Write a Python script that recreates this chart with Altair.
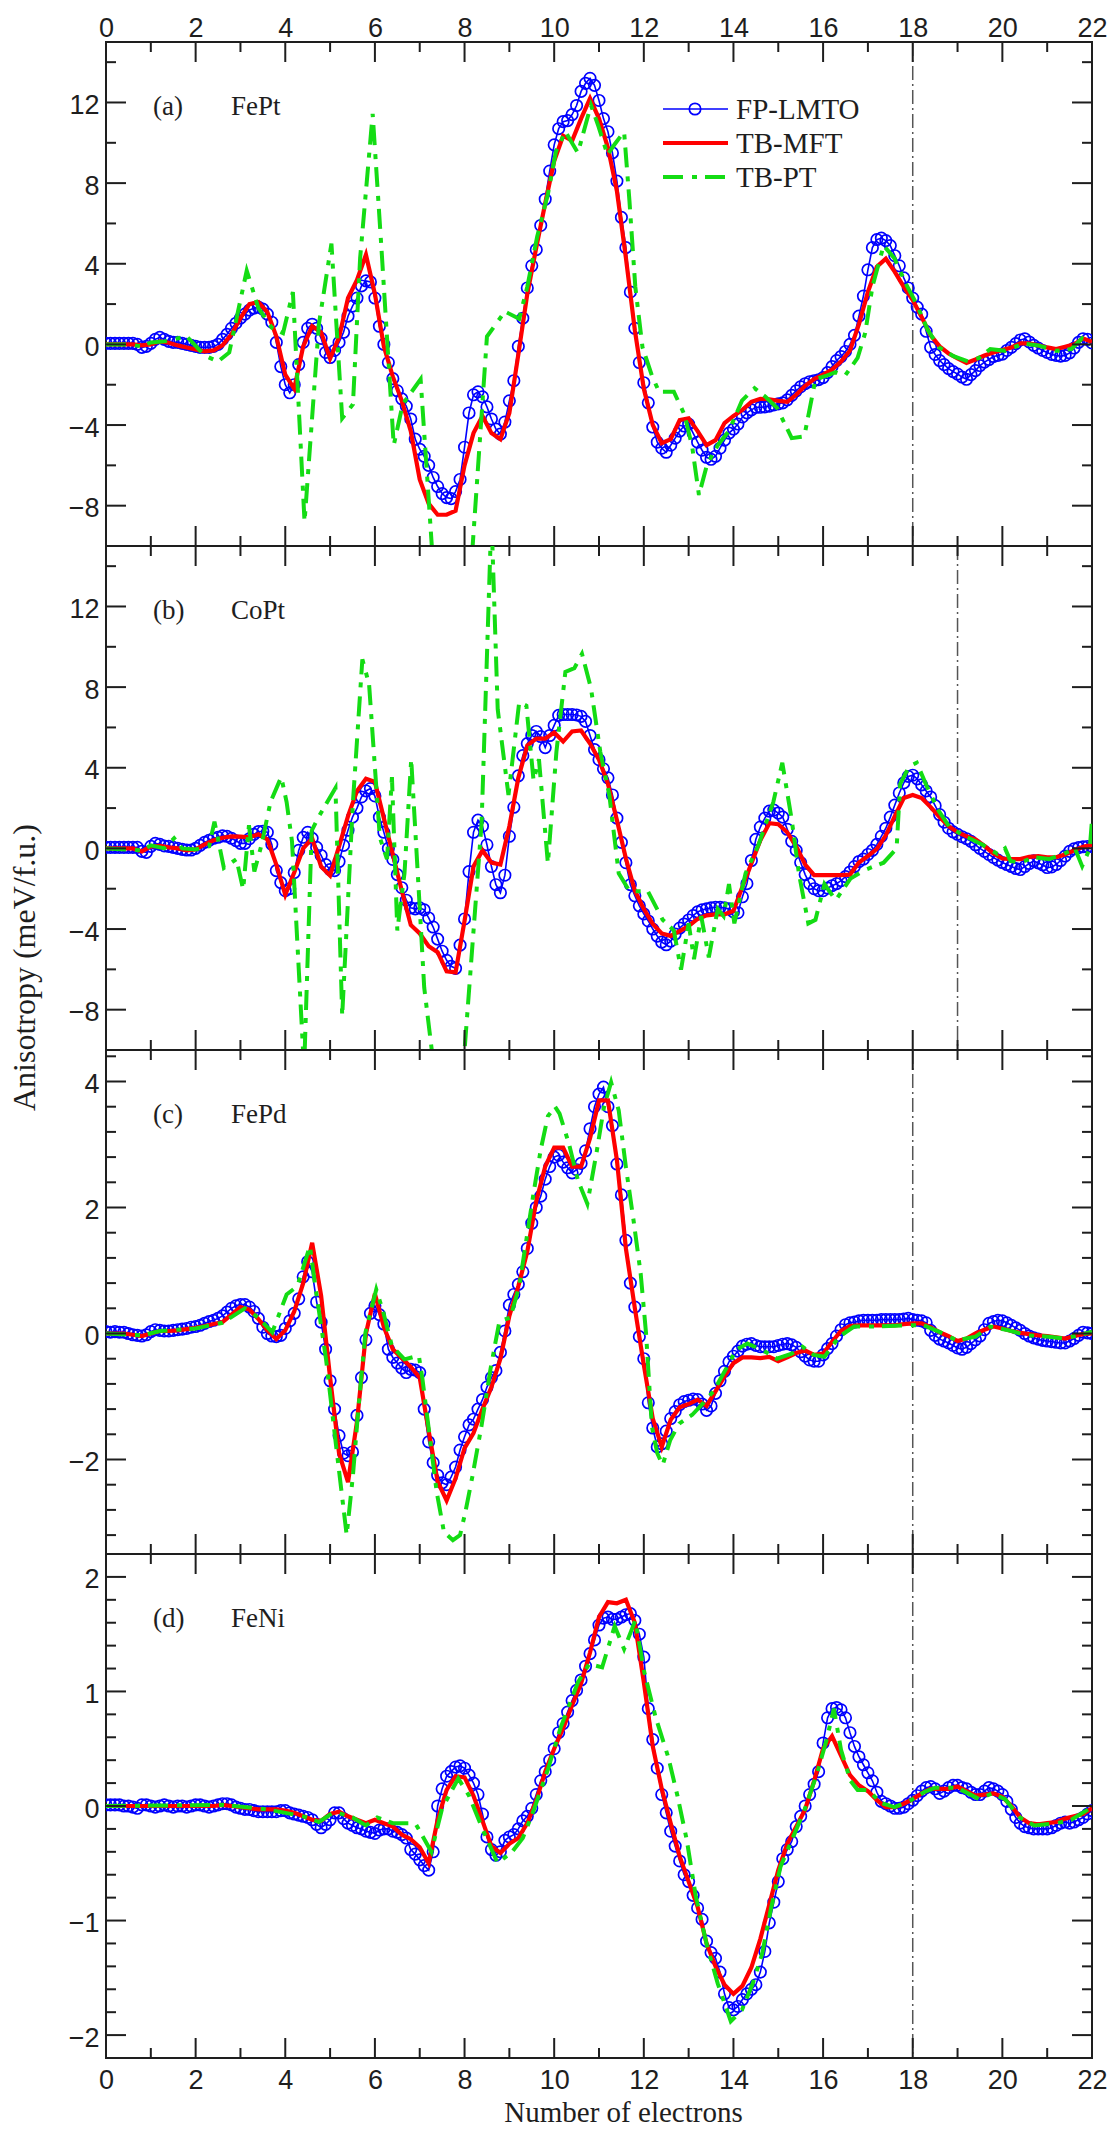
import altair as alt
import pandas as pd

# ---------------------------------------------------------------- style
INK = "#1e1e1e"
BLUE = "#0000ff"
RED = "#ff0000"
GREEN = "#14dc14"
GUIDE = "#555555"
SANS = "Liberation Sans"
SERIF = "Liberation Serif"

W, H = 986, 504           # plot area of one panel
MAJOR_LEN, MINOR_LEN = 20, 10
PT_DASH = [20, 9, 5, 8]
GUIDE_DASH = [14, 4, 2, 4]

# ---------------------------------------------------------------- data
X_LMTO = [round(0.1 * i, 1) for i in range(221)]   # FP-LMTO grid
X_MFT = [round(0.2 * i, 1) for i in range(111)]    # TB-MFT grid
X_MAJOR = list(range(0, 23, 2))
X_MINOR = list(range(1, 22, 2))
SERIES = ["FP-LMTO", "TB-MFT", "TB-PT"]

FEPT_LMTO = [
    0.05, 0.05, 0.05, 0.05, 0.05, 0.05, 0.05, 0.0, -0.15, -0.1,
    0.05, 0.25, 0.35, 0.25, 0.15, 0.1, 0.1, 0.05, 0.0, -0.05,
    -0.1, -0.15, -0.15, -0.15, -0.1, 0.0, 0.25, 0.5, 0.8, 1.05,
    1.3, 1.5, 1.7, 1.8, 1.85, 1.75, 1.5, 1.1, 0.1, -1.1,
    -2.0, -2.4, -2.0, -1.0, 0.1, 0.8, 1.0, 0.8, 0.3, -0.4,
    -0.65, -0.3, 0.1, 0.6, 1.4, 1.9, 2.3, 2.9, 3.15, 3.1,
    2.3, 0.9, 0.0, -0.9, -1.7, -2.3, -2.7, -3.06, -3.7, -4.7,
    -5.2, -5.55, -6.0, -6.6, -7.05, -7.4, -7.6, -7.65, -7.3, -6.7,
    -5.1, -3.4, -2.5, -2.35, -2.6, -3.1, -3.7, -4.2, -4.45, -3.85,
    -2.8, -1.8, -0.1, 1.3, 2.8, 3.9, 4.7, 5.9, 7.2, 8.6,
    9.9, 10.7, 11.05, 11.1, 11.4, 11.85, 12.55, 12.95, 13.2, 12.85,
    12.1, 11.2, 10.55, 9.5, 8.1, 6.3, 4.8, 2.6, 0.8, -0.9,
    -1.9, -2.9, -4.1, -4.85, -5.15, -5.35, -5.0, -4.65, -4.3, -4.05,
    -3.95, -4.4, -4.85, -5.25, -5.6, -5.7, -5.55, -5.15, -4.75, -4.4,
    -4.2, -3.95, -3.6, -3.4, -3.25, -3.12, -3.12, -3.1, -3.06, -3.0,
    -2.95, -2.9, -2.75, -2.53, -2.3, -2.1, -1.95, -1.85, -1.8, -1.75,
    -1.65, -1.4, -1.1, -0.8, -0.6, -0.35, 0.0, 0.45, 1.4, 2.4,
    3.7, 4.8, 5.2, 5.27, 5.15, 4.9, 4.4, 3.9, 3.3, 2.8,
    2.3, 1.85, 1.5, 0.65, -0.15, -0.5, -0.8, -1.0, -1.2, -1.35,
    -1.47, -1.62, -1.73, -1.5, -1.3, -1.05, -0.88, -0.75, -0.6, -0.55,
    -0.48, -0.3, -0.15, 0.04, 0.22, 0.28, 0.12, -0.05, -0.18, -0.3,
    -0.4, -0.5, -0.55, -0.58, -0.55, -0.42, -0.18, 0.1, 0.28, 0.25,
    0.07,
]
FEPT_MFT = [
    0.0, 0.0, 0.0, 0.0, -0.05, 0.0, 0.15, 0.08, -0.05, -0.15,
    -0.25, -0.35, -0.3, -0.05, 0.5, 1.3, 2.0, 2.1, 1.6, 0.4,
    -1.5, -2.2, -0.1, 0.9, 0.6, -0.7, 0.35, 2.3, 3.2, 4.45,
    2.5, -0.1, -1.6, -2.8, -4.3, -6.7, -7.9, -8.45, -8.45, -8.25,
    -6.0, -4.4, -3.55, -4.4, -4.7, -3.4, -0.5, 2.5, 4.8, 7.0,
    9.1, 10.35, 10.1, 11.2, 12.2, 11.2, 9.75, 7.6, 4.3, 0.7,
    -2.2, -4.0, -4.9, -4.7, -3.75, -3.67, -4.3, -5.0, -4.75, -3.9,
    -3.55, -3.25, -2.85, -2.7, -2.72, -2.8, -2.85, -2.5, -2.05, -1.72,
    -1.5, -1.25, -0.85, -0.3, 1.0, 2.6, 3.85, 4.25, 3.6, 2.85,
    2.2, 1.35, 0.45, -0.1, -0.45, -0.7, -0.92, -0.75, -0.55, -0.4,
    -0.28, -0.15, 0.05, 0.05, -0.05, -0.15, -0.23, -0.12, 0.0, 0.3,
    0.12,
]
FEPT_PT_X = [
    0, 0.5, 0.8, 1.0, 1.3, 1.8, 2.2, 2.5, 2.75, 3.14,
    3.4, 3.7, 3.95, 4.17, 4.43, 4.75, 5.03, 5.27, 5.51, 5.67,
    5.95, 6.15, 6.42, 6.62, 7.02, 7.3, 8.15, 8.5, 8.9, 9.22,
    9.4, 9.62, 9.86, 10.04, 10.25, 10.37, 10.53, 10.82, 10.99, 11.19,
    11.35, 11.56, 11.68, 11.81, 11.97, 12.18, 12.34, 12.67, 12.91, 13.08,
    13.23, 13.41, 13.65, 13.9, 14.19, 14.47, 14.72, 14.97, 15.3, 15.58,
    15.83, 16.08, 16.28, 16.49, 16.77, 16.94, 17.1, 17.35, 17.59, 17.84,
    18.09, 18.33, 18.58, 18.91, 19.24, 19.48, 19.73, 20.06, 20.47, 20.8,
    21.21, 21.54, 21.78, 21.95,
]
FEPT_PT = [
    0.0, 0.0, -0.1, 0.1, 0.15, 0.4, -0.55, -0.85, -0.4, 3.66,
    1.8, 0.83, 0.56, 2.6, -8.8, 1.0, 5.0, -3.67, -2.97, 4.28,
    11.43, 4.63, -5.0, -2.97, -1.73, -11.0, -11.0, 0.39, 1.63, 1.27,
    2.86, 5.34, 7.46, 9.58, 10.55, 10.1, 9.5, 11.87, 10.8, 9.4,
    9.93, 10.55, 7.1, 2.86, -0.14, -1.55, -2.35, -2.35, -3.5, -5.09,
    -7.47, -5.97, -5.0, -4.29, -2.79, -2.17, -2.61, -3.14, -4.65, -4.56,
    -1.73, -1.55, -1.38, -1.55, -0.67, 0.57, 2.86, 4.9, 4.28, 3.04,
    1.98, 0.74, -0.14, -0.58, -0.85, -0.67, -0.23, -0.32, 0.04, -0.05,
    -0.32, -0.23, 0.3, -0.05,
]

COPT_LMTO = [
    0.05, 0.05, 0.05, 0.05, 0.05, 0.05, 0.05, 0.05, -0.15, -0.2,
    0.1, 0.25, 0.2, 0.12, 0.1, 0.05, 0.0, -0.05, -0.08, -0.08,
    0.0, 0.15, 0.3, 0.4, 0.5, 0.55, 0.62, 0.6, 0.5, 0.38,
    0.25, 0.25, 0.48, 0.7, 0.83, 0.85, 0.8, 0.2, -1.1, -1.7,
    -2.1, -2.0, -1.2, -0.1, 0.55, 0.8, 0.5, 0.05, -0.35, -0.8,
    -1.05, -1.1, -0.65, 0.15, 0.9, 1.55, 2.0, 2.55, 2.85, 2.97,
    2.6, 1.55, 0.8, 0.0, -0.55, -1.3, -1.95, -2.57, -2.95, -3.0,
    -2.95, -3.05, -3.45, -3.9, -4.5, -5.1, -5.55, -5.85, -5.95, -4.8,
    -3.5, -1.15, 0.8, 1.4, 1.1, 0.18, -0.9, -1.8, -2.2, -1.33,
    0.6, 2.04, 3.6, 4.6, 5.2, 5.6, 5.8, 5.55, 5.0, 5.6,
    6.1, 6.6, 6.64, 6.64, 6.64, 6.62, 6.55, 6.3, 5.6, 4.9,
    4.4, 3.95, 3.5, 2.65, 1.5, 0.3, -0.71, -1.8, -2.35, -2.85,
    -3.25, -3.6, -4.0, -4.35, -4.65, -4.78, -4.6, -4.25, -3.95, -3.75,
    -3.55, -3.33, -3.15, -3.05, -3.0, -2.95, -2.92, -2.92, -2.95, -3.0,
    -3.15, -3.19, -2.4, -1.75, -0.6, 0.45, 1.06, 1.5, 1.85, 1.9,
    1.75, 1.55, 0.95, 0.35, -0.1, -0.7, -1.3, -1.75, -2.0, -2.1,
    -2.1, -1.97, -1.85, -1.75, -1.6, -1.4, -1.17, -0.9, -0.65, -0.53,
    -0.3, -0.1, 0.2, 0.6, 1.0, 1.55, 2.15, 2.75, 3.25, 3.57,
    3.63, 3.45, 3.15, 2.85, 2.55, 2.12, 1.68, 1.3, 1.0, 0.82,
    0.7, 0.58, 0.48, 0.35, 0.18, 0.0, -0.15, -0.3, -0.45, -0.58,
    -0.7, -0.8, -0.9, -1.0, -1.05, -0.9, -0.75, -0.62, -0.72, -0.82,
    -0.95, -0.92, -0.8, -0.6, -0.38, -0.15, -0.02, 0.04, 0.08, 0.09,
    0.09,
]
COPT_MFT = [
    0.0, 0.0, 0.0, 0.0, -0.15, 0.1, 0.12, 0.05, 0.0, -0.1,
    -0.05, 0.2, 0.4, 0.53, 0.6, 0.58, 0.55, 0.7, 0.45, -0.8,
    -2.3, -1.2, 0.0, 0.5, -0.9, -1.35, 0.1, 1.6, 2.85, 3.45,
    3.3, 1.5, -0.3, -2.1, -3.8, -4.22, -4.85, -5.15, -6.1, -6.15,
    -3.6, -0.9, -0.1, -0.7, -0.8, 1.1, 3.5, 5.1, 5.45, 5.45,
    5.75, 5.3, 5.8, 5.85, 5.2, 4.4, 3.2, 1.4, -0.5, -2.1,
    -3.0, -3.75, -4.22, -4.34, -4.1, -3.85, -3.5, -3.32, -3.27, -3.27,
    -3.1, -1.9, -0.75, 0.4, 1.25, 1.2, 0.8, 0.1, -0.8, -1.33,
    -1.33, -1.33, -1.33, -1.3, -0.7, -0.38, -0.02, 0.65, 1.6, 2.5,
    2.65, 2.5, 2.05, 1.55, 1.1, 0.8, 0.6, 0.45, 0.12, -0.25,
    -0.5, -0.53, -0.53, -0.42, -0.38, -0.44, -0.44, -0.3, -0.1, 0.08,
    0.18,
]
COPT_PT_X = [
    0, 0.8, 1.0, 1.3, 1.52, 1.7, 2.0, 2.3, 2.42, 2.63,
    2.91, 3.06, 3.19, 3.31, 3.47, 3.67, 3.91, 4.03, 4.15, 4.42,
    4.59, 4.75, 5.12, 5.27, 5.51, 5.72, 5.87, 6.11, 6.27, 6.38,
    6.5, 6.66, 6.81, 7.02, 7.1, 7.35, 7.95, 8.38, 8.6, 8.74,
    8.98, 9.22, 9.38, 9.54, 9.66, 9.86, 10.05, 10.25, 10.45, 10.62,
    10.82, 11.03, 11.23, 11.44, 11.68, 12.09, 12.42, 12.67, 12.83, 13.0,
    13.12, 13.28, 13.45, 13.65, 13.78, 13.9, 14.02, 14.27, 14.56, 14.89,
    15.09, 15.3, 15.46, 15.67, 15.83, 16.03, 16.28, 16.61, 16.94, 17.35,
    17.64, 17.72, 17.92, 18.09, 18.33, 18.58, 18.82, 19.15, 19.56, 19.89,
    20.06, 20.18, 20.39, 20.71, 21.04, 21.37, 21.62, 21.78, 21.95, 22.0,
]
COPT_PT = [
    0.0, -0.1, 0.15, 0.0, 0.5, 0.0, -0.05, 0.1, 1.33, -0.97,
    -0.53, -2.04, 1.15, -1.15, 0.18, 2.3, 3.54, 2.3, 0.35, -11.0,
    0.88, 1.59, 3.0, -8.3, 2.3, 9.38, 8.14, 0.53, -0.53, 3.54,
    -4.07, -1.24, 4.42, -3.72, -6.9, -11.5, -11.5, 1.24, 16.5, 6.9,
    2.65, 7.26, 7.08, 3.36, 4.42, -0.75, 4.8, 8.76, 8.94, 9.65,
    7.96, 4.78, 2.65, -1.24, -2.12, -2.12, -3.54, -4.07, -6.02, -3.72,
    -5.49, -3.36, -5.4, -3.0, -3.36, -1.77, -3.72, -1.24, 0.18, 2.3,
    4.25, 1.42, -1.24, -3.72, -3.54, -1.77, -2.57, -1.5, -1.06, -0.71,
    0.0, 3.19, 4.07, 4.25, 3.0, 1.86, 1.06, 0.62, 0.18, -0.27,
    0.0, -0.62, -0.71, -0.44, -0.53, -0.27, 0.0, -0.88, 0.0, 1.42,
]

FEPD_LMTO = [
    0.03, 0.02, 0.03, 0.02, 0.02, 0.0, -0.02, -0.03, -0.04, -0.02,
    0.03, 0.06, 0.05, 0.04, 0.04, 0.05, 0.06, 0.07, 0.08, 0.1,
    0.11, 0.13, 0.16, 0.19, 0.21, 0.24, 0.28, 0.34, 0.4, 0.44,
    0.46, 0.46, 0.42, 0.35, 0.24, 0.1, 0.0, -0.04, -0.05, -0.03,
    0.08, 0.2, 0.32, 0.55, 0.9, 1.14, 0.98, 0.5, 0.18, -0.25,
    -0.75, -1.2, -1.62, -1.9, -1.94, -1.88, -1.3, -0.7, -0.1, 0.32,
    0.44, 0.3, 0.15, -0.25, -0.38, -0.47, -0.55, -0.62, -0.57, -0.58,
    -0.62, -1.2, -1.72, -2.05, -2.25, -2.37, -2.4, -2.28, -2.12, -1.85,
    -1.64, -1.45, -1.36, -1.2, -1.05, -0.85, -0.7, -0.59, -0.3, 0.04,
    0.45, 0.62, 0.78, 0.98, 1.35, 1.75, 2.0, 2.18, 2.45, 2.65,
    2.8, 2.83, 2.72, 2.63, 2.55, 2.6, 2.7, 2.9, 3.25, 3.6,
    3.8, 3.91, 3.6, 3.3, 2.69, 2.2, 1.48, 0.8, 0.42, -0.05,
    -0.4, -1.1, -1.5, -1.8, -1.75, -1.55, -1.35, -1.24, -1.13, -1.08,
    -1.06, -1.04, -1.05, -1.12, -1.22, -1.15, -0.95, -0.75, -0.6, -0.45,
    -0.36, -0.28, -0.2, -0.17, -0.16, -0.19, -0.21, -0.21, -0.21, -0.21,
    -0.19, -0.17, -0.16, -0.18, -0.22, -0.29, -0.36, -0.42, -0.44, -0.44,
    -0.34, -0.24, -0.16, -0.04, 0.06, 0.14, 0.17, 0.18, 0.2, 0.21,
    0.21, 0.21, 0.21, 0.22, 0.22, 0.22, 0.22, 0.22, 0.23, 0.24,
    0.22, 0.21, 0.2, 0.17, 0.05, -0.03, -0.09, -0.12, -0.15, -0.19,
    -0.23, -0.25, -0.22, -0.16, -0.1, -0.04, 0.06, 0.16, 0.19, 0.21,
    0.2, 0.17, 0.13, 0.09, 0.05, 0.0, -0.04, -0.07, -0.09, -0.11,
    -0.12, -0.13, -0.14, -0.15, -0.15, -0.12, -0.08, -0.03, 0.02, 0.01,
    0.0,
]
FEPD_MFT = [
    0.0, 0.0, 0.0, -0.02, -0.04, 0.0, 0.04, 0.04, 0.05, 0.07,
    0.09, 0.12, 0.15, 0.18, 0.3, 0.42, 0.38, 0.23, 0.05, -0.09,
    0.05, 0.35, 0.8, 1.44, 0.6, -0.7, -1.9, -2.36, -1.4, 0.0,
    0.63, 0.1, -0.25, -0.39, -0.53, -0.7, -1.55, -2.35, -2.65, -2.3,
    -1.82, -1.58, -1.2, -0.85, -0.4, 0.28, 0.75, 1.3, 2.1, 2.65,
    2.95, 2.95, 2.65, 2.65, 3.1, 3.7, 3.7, 2.75, 1.35, 0.4,
    -0.5, -1.35, -1.8, -1.37, -1.17, -1.12, -1.05, -1.15, -0.92, -0.68,
    -0.47, -0.38, -0.38, -0.39, -0.37, -0.44, -0.38, -0.31, -0.27, -0.34,
    -0.32, -0.13, 0.04, 0.12, 0.13, 0.13, 0.13, 0.13, 0.13, 0.15,
    0.16, 0.16, 0.1, 0.02, -0.04, -0.12, -0.08, 0.0, 0.06, 0.11,
    0.08, 0.04, 0.01, -0.01, -0.03, -0.04, -0.06, -0.08, -0.04, -0.01,
    0.0,
]
FEPD_PT_X = [
    0, 0.8, 1.2, 2.0, 2.6, 3.1, 3.4, 3.71, 4.03, 4.27,
    4.55, 4.67, 4.91, 5.15, 5.37, 5.51, 5.63, 5.79, 6.03, 6.19,
    6.38, 6.66, 6.98, 7.06, 7.22, 7.38, 7.54, 7.74, 7.9, 8.02,
    8.18, 8.38, 8.58, 8.78, 9.02, 9.22, 9.38, 9.54, 9.7, 9.86,
    10.02, 10.12, 10.33, 10.53, 10.74, 10.94, 11.11, 11.27, 11.44, 11.6,
    11.77, 11.93, 12.05, 12.18, 12.3, 12.42, 12.59, 12.79, 13.08, 13.32,
    13.57, 13.82, 14.06, 14.31, 14.64, 14.97, 15.3, 15.54, 15.79, 16.03,
    16.36, 16.69, 17.1, 17.92, 18.25, 18.58, 18.99, 19.4, 19.73, 20.14,
    20.55, 21.04, 21.37, 21.7, 22.0,
]
FEPD_PT = [
    0.0, -0.03, 0.04, 0.08, 0.17, 0.4, 0.25, 0.02, 0.62, 0.75,
    1.39, 0.75, -0.41, -1.88, -3.2, -2.25, -1.2, 0.02, 0.7, 0.33,
    -0.2, -0.41, -0.35, -0.72, -1.62, -2.52, -3.15, -3.28, -3.2, -2.83,
    -2.25, -1.46, -0.56, 0.2, 0.25, 0.75, 1.49, 2.23, 2.92, 3.45,
    3.6, 3.49, 3.01, 2.43, 2.06, 2.85, 3.59, 3.99, 3.54, 2.64,
    1.8, 0.95, 0.0, -1.48, -1.9, -2.09, -1.69, -1.43, -1.29, -1.11,
    -0.9, -0.58, -0.26, -0.16, -0.26, -0.4, -0.32, -0.21, -0.34, -0.37,
    -0.05, 0.11, 0.11, 0.13, 0.13, 0.03, -0.11, -0.05, 0.11, 0.05,
    -0.03, -0.05, -0.08, -0.03, 0.03,
]

FENI_LMTO = [
    0.01, 0.01, 0.01, 0.01, 0.0, 0.0, -0.01, -0.02, 0.01, 0.01,
    0.0, -0.01, 0.0, 0.01, 0.0, -0.01, 0.0, 0.0, -0.01, 0.0,
    0.01, 0.01, 0.0, -0.01, 0.0, 0.01, 0.02, 0.02, 0.01, -0.01,
    -0.02, -0.03, -0.03, -0.04, -0.05, -0.05, -0.05, -0.05, -0.05, -0.04,
    -0.04, -0.06, -0.07, -0.08, -0.09, -0.1, -0.12, -0.16, -0.19, -0.16,
    -0.12, -0.06, -0.06, -0.11, -0.15, -0.17, -0.19, -0.2, -0.22, -0.23,
    -0.24, -0.21, -0.2, -0.2, -0.22, -0.23, -0.25, -0.28, -0.38, -0.42,
    -0.47, -0.52, -0.56, -0.4, 0.0, 0.15, 0.26, 0.3, 0.34, 0.35,
    0.33, 0.27, 0.2, 0.1, -0.07, -0.27, -0.38, -0.43, -0.4, -0.3,
    -0.27, -0.25, -0.2, -0.13, -0.09, -0.02, 0.1, 0.22, 0.3, 0.4,
    0.5, 0.64, 0.72, 0.82, 0.92, 1.01, 1.1, 1.22, 1.33, 1.45,
    1.58, 1.64, 1.65, 1.63, 1.63, 1.65, 1.67, 1.68, 1.62, 1.5,
    1.3, 0.85, 0.58, 0.33, 0.1, -0.06, -0.22, -0.35, -0.48, -0.6,
    -0.66, -0.78, -0.89, -0.99, -1.18, -1.28, -1.33, -1.45, -1.64, -1.76,
    -1.78, -1.75, -1.69, -1.64, -1.6, -1.56, -1.45, -1.27, -1.02, -0.84,
    -0.66, -0.46, -0.38, -0.31, -0.18, -0.09, 0.0, 0.1, 0.19, 0.3,
    0.55, 0.77, 0.85, 0.86, 0.84, 0.77, 0.64, 0.52, 0.43, 0.36,
    0.29, 0.22, 0.12, 0.04, 0.02, 0.0, -0.02, -0.02, -0.01, 0.02,
    0.05, 0.09, 0.13, 0.16, 0.17, 0.15, 0.11, 0.13, 0.16, 0.18,
    0.18, 0.16, 0.15, 0.12, 0.1, 0.1, 0.13, 0.16, 0.15, 0.13,
    0.1, 0.04, -0.03, -0.1, -0.15, -0.18, -0.19, -0.2, -0.2, -0.2,
    -0.2, -0.19, -0.17, -0.15, -0.14, -0.15, -0.14, -0.12, -0.1, -0.07,
    -0.04,
]
FENI_MFT = [
    0.0, 0.0, 0.0, 0.0, 0.0, 0.0, 0.0, 0.0, 0.0, 0.0,
    0.0, 0.0, 0.0, 0.01, 0.0, -0.01, -0.02, -0.03, -0.03, -0.03,
    -0.04, -0.06, -0.09, -0.12, -0.13, -0.07, -0.05, -0.09, -0.12, -0.15,
    -0.12, -0.15, -0.18, -0.25, -0.29, -0.36, -0.5, -0.12, 0.14, 0.26,
    0.25, 0.09, -0.13, -0.35, -0.41, -0.33, -0.28, -0.15, 0.05, 0.3,
    0.5, 0.68, 0.88, 1.07, 1.34, 1.65, 1.78, 1.77, 1.8, 1.6,
    1.08, 0.52, 0.15, -0.15, -0.44, -0.66, -0.88, -1.2, -1.4, -1.56,
    -1.64, -1.57, -1.41, -1.16, -0.86, -0.56, -0.33, -0.18, -0.03, 0.22,
    0.5, 0.61, 0.44, 0.27, 0.18, 0.13, 0.05, -0.01, -0.01, 0.02,
    0.06, 0.11, 0.15, 0.15, 0.15, 0.17, 0.13, 0.09, 0.1, 0.11,
    0.08, 0.0, -0.1, -0.15, -0.16, -0.15, -0.14, -0.11, -0.09, -0.07,
    -0.02,
]
FENI_PT_X = [
    0, 2.6, 3.6, 4.4, 4.75, 5.1, 5.5, 5.8, 6.05, 6.4,
    6.9, 7.26, 7.5, 7.86, 8.1, 8.4, 8.74, 9.06, 9.3, 9.54,
    9.86, 10.14, 10.53, 10.78, 11.07, 11.35, 11.56, 11.81, 12.01, 12.26,
    12.55, 12.75, 12.96, 13.16, 13.41, 13.65, 13.94, 14.19, 14.43, 14.64,
    14.84, 15.05, 15.3, 15.58, 15.87, 16.08, 16.24, 16.4, 16.61, 16.77,
    17.02, 17.27, 17.59, 17.92, 18.25, 18.5, 18.99, 19.48, 19.77, 20.06,
    20.39, 20.71, 21.21, 21.54, 22.0,
]
FENI_PT = [
    0.0, 0.01, -0.03, -0.09, -0.14, -0.05, -0.1, -0.17, -0.1, -0.15,
    -0.15, -0.4, -0.02, 0.24, 0.09, -0.2, -0.5, -0.4, -0.28, -0.04,
    0.32, 0.68, 1.08, 1.24, 1.21, 1.57, 1.37, 1.62, 1.17, 0.78,
    0.42, 0.09, -0.3, -0.79, -1.22, -1.55, -1.88, -1.78, -1.55, -1.29,
    -0.89, -0.53, -0.3, -0.04, 0.29, 0.58, 0.85, 0.49, 0.22, 0.14,
    0.14, 0.03, -0.01, 0.04, 0.12, 0.16, 0.16, 0.06, 0.11, 0.06,
    -0.1, -0.17, -0.15, -0.12, -0.01,
]

PANELS = [
    dict(tag="(a)", name="FePt", lo=-10, hi=15, guide=18,
         major=[-8, -4, 0, 4, 8, 12], minor=[-6, -2, 2, 6, 10, 14],
         lmto=FEPT_LMTO, mft=FEPT_MFT, pt_x=FEPT_PT_X, pt=FEPT_PT),
    dict(tag="(b)", name="CoPt", lo=-10, hi=15, guide=19,
         major=[-8, -4, 0, 4, 8, 12], minor=[-6, -2, 2, 6, 10, 14],
         lmto=COPT_LMTO, mft=COPT_MFT, pt_x=COPT_PT_X, pt=COPT_PT),
    dict(tag="(c)", name="FePd", lo=-3.5, hi=4.5, guide=18,
         major=[-2, 0, 2, 4],
         minor=[-3.2, -2.8, -2.4, -1.6, -1.2, -0.8, -0.4, 0.4, 0.8, 1.2,
                1.6, 2.4, 2.8, 3.2, 3.6, 4.4],
         lmto=FEPD_LMTO, mft=FEPD_MFT, pt_x=FEPD_PT_X, pt=FEPD_PT),
    dict(tag="(d)", name="FeNi", lo=-2.2, hi=2.2, guide=18,
         major=[-2, -1, 0, 1, 2],
         minor=[-1.8, -1.6, -1.4, -1.2, -0.8, -0.6, -0.4, -0.2, 0.2, 0.4,
                0.6, 0.8, 1.2, 1.4, 1.6, 1.8],
         lmto=FENI_LMTO, mft=FENI_MFT, pt_x=FENI_PT_X, pt=FENI_PT),
]


def one_row(text):
    return pd.DataFrame({"t": [text]})


def build_panel(p, first, last, with_title):
    xs = alt.Scale(domain=[0, 22], nice=False, zero=False)
    ys = alt.Scale(domain=[p["lo"], p["hi"]], nice=False, zero=False)

    if first:
        xaxis = alt.Axis(orient="top", values=X_MAJOR, format="d", ticks=False,
                         domain=False, grid=False, labelPadding=0, title=None)
    elif last:
        xaxis = alt.Axis(orient="bottom", values=X_MAJOR, format="d", ticks=False,
                         domain=False, grid=False, labelPadding=9,
                         title="Number of electrons", titleX=517, titleY=63,
                         titleFontSize=29, titleAlign="center",
                         titleBaseline="alphabetic")
    else:
        xaxis = None

    yargs = dict(values=p["major"], format="d", ticks=False, domain=False, grid=False,
                 labelPadding=7, labelBaseline="alphabetic", labelOffset=11)
    if with_title:
        yargs.update(title="Anisotropy (meV/f.u.)", titleAngle=270, titleX=-82,
                     titleY=421, titleFontSize=32, titleAlign="center",
                     titleBaseline="middle")
    else:
        yargs.update(title=None)
    yaxis = alt.Axis(**yargs)

    def X(f):
        return alt.X(f, type="quantitative", scale=xs, axis=xaxis)

    def Y(f):
        return alt.Y(f, type="quantitative", scale=ys, axis=yaxis)

    lmto = pd.DataFrame({"x": X_LMTO, "y": p["lmto"]})
    mft = pd.DataFrame({"x": X_MFT, "y": p["mft"]})
    pt = pd.DataFrame({"x": p["pt_x"], "y": p["pt"]})

    layers = [
        alt.Chart(pd.DataFrame({"x": [p["guide"]]})).mark_rule(
            color=GUIDE, strokeWidth=1.5, strokeDash=GUIDE_DASH).encode(x=X("x")),
        alt.Chart(lmto).mark_line(color=BLUE, strokeWidth=1.6, clip=True).encode(
            x=X("x"), y=Y("y")),
        alt.Chart(lmto).mark_point(shape="circle", size=130, filled=False, color=BLUE,
                                   strokeWidth=1.7, opacity=1, clip=True).encode(
            x=X("x"), y=Y("y")),
        alt.Chart(mft).mark_line(color=RED, strokeWidth=4.2, clip=True).encode(
            x=X("x"), y=Y("y")),
        alt.Chart(pt).mark_line(color=GREEN, strokeWidth=4, strokeDash=PT_DASH,
                                clip=True).encode(x=X("x"), y=Y("y")),
    ]

    # inward tick marks on all four sides
    for vals, ln in ((p["major"], MAJOR_LEN), (p["minor"], MINOR_LEN)):
        d = pd.DataFrame({"v": vals})
        layers.append(alt.Chart(d).mark_rule(color=INK, strokeWidth=2).encode(
            y=Y("v"), x=alt.value(0), x2=alt.value(ln)))
        layers.append(alt.Chart(d).mark_rule(color=INK, strokeWidth=2).encode(
            y=Y("v"), x=alt.value(W), x2=alt.value(W - ln)))
    for vals, ln in ((X_MAJOR, MAJOR_LEN), (X_MINOR, MINOR_LEN)):
        d = pd.DataFrame({"v": vals})
        layers.append(alt.Chart(d).mark_rule(color=INK, strokeWidth=2).encode(
            x=X("v"), y=alt.value(0), y2=alt.value(ln)))
        layers.append(alt.Chart(d).mark_rule(color=INK, strokeWidth=2).encode(
            x=X("v"), y=alt.value(H), y2=alt.value(H - ln)))

    # panel tag and compound name
    layers.append(alt.Chart(one_row(p["tag"])).mark_text(
        font=SERIF, fontSize=27, align="left", baseline="alphabetic", color=INK).encode(
        text="t:N", x=alt.value(47), y=alt.value(73)))
    layers.append(alt.Chart(one_row(p["name"])).mark_text(
        font=SERIF, fontSize=27, align="left", baseline="alphabetic", color=INK).encode(
        text="t:N", x=alt.value(125), y=alt.value(73)))

    if first:
        rows = [67, 101, 135]
        layers.append(alt.Chart(one_row(SERIES[0])).mark_rule(
            color=BLUE, strokeWidth=1.6).encode(
            x=alt.value(557), x2=alt.value(622), y=alt.value(rows[0])))
        layers.append(alt.Chart(one_row(SERIES[0])).mark_point(
            shape="circle", size=130, filled=False, color=BLUE, strokeWidth=1.7,
            opacity=1).encode(x=alt.value(589), y=alt.value(rows[0])))
        layers.append(alt.Chart(one_row(SERIES[1])).mark_rule(
            color=RED, strokeWidth=4.2).encode(
            x=alt.value(557), x2=alt.value(622), y=alt.value(rows[1])))
        layers.append(alt.Chart(one_row(SERIES[2])).mark_rule(
            color=GREEN, strokeWidth=4, strokeDash=PT_DASH).encode(
            x=alt.value(557), x2=alt.value(622), y=alt.value(rows[2])))
        for name, r in zip(SERIES, rows):
            layers.append(alt.Chart(one_row(name)).mark_text(
                font=SERIF, fontSize=29, align="left", baseline="alphabetic",
                color=INK).encode(text="t:N", x=alt.value(630), y=alt.value(r + 10)))

    return alt.layer(*layers).properties(width=W, height=H)


panels = [
    build_panel(p, first=(i == 0), last=(i == len(PANELS) - 1), with_title=(i == 1))
    for i, p in enumerate(PANELS)
]

chart = alt.vconcat(*panels, spacing=0, bounds="flush").properties(
    padding={"left": 7, "top": 13, "right": 0, "bottom": 0}
).configure_view(
    stroke=INK, strokeWidth=2
).configure_axis(
    labelFont=SANS, labelFontSize=27, labelColor=INK, labelFlush=False,
    labelOverlap=False, titleFont=SERIF, titleFontWeight="normal", titleColor=INK
)

chart.save("out.html", embed_options={"renderer": "svg", "actions": False})
